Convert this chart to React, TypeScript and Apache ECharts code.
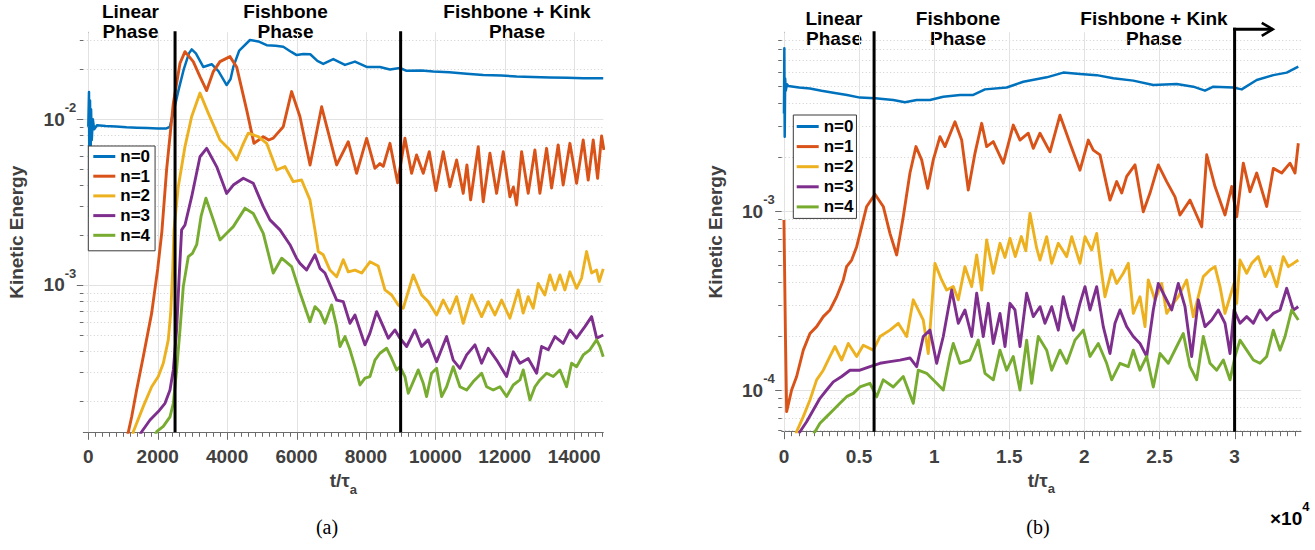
import React, { useEffect, useRef } from "react";
import * as echarts from "echarts";

// ---------- DATA ----------
const seriesNames = ["n=0", "n=1", "n=2", "n=3", "n=4"];
const seriesColors = ["#0072BD", "#D95319", "#EDB120", "#7E2F8E", "#77AC30"];

// (a) left panel: [t/tau_a, kinetic energy]
const leftN0 = [
  [0, 9.0e-3], [20, 1.46e-2], [35, 2.6e-3], [50, 1.3e-2], [65, 5.0e-3], [80, 1.15e-2], [100, 7.5e-3],
  [130, 1.0e-2], [170, 8.7e-3], [250, 9.2e-3], [500, 9.1e-3], [800, 9.05e-3], [1100, 8.95e-3],
  [1400, 8.9e-3], [1700, 8.85e-3], [2000, 8.8e-3], [2250, 8.8e-3], [2350, 9.0e-3], [2470, 1.14e-2],
  [2600, 1.5e-2], [2750, 2.0e-2], [2900, 2.5e-2], [2980, 2.64e-2], [3100, 2.5e-2], [3313, 2.07e-2],
  [3555, 2.15e-2], [3750, 1.95e-2], [3987, 1.61e-2], [4100, 1.75e-2], [4178, 2.07e-2], [4350, 2.6e-2],
  [4658, 3.01e-2], [4900, 2.95e-2], [5140, 2.8e-2], [5400, 2.78e-2], [5618, 2.74e-2], [5850, 2.55e-2],
  [6004, 2.44e-2], [6200, 2.48e-2], [6396, 2.47e-2], [6600, 2.25e-2], [6770, 2.16e-2], [7059, 2.31e-2],
  [7396, 2.13e-2], [7684, 2.23e-2], [8021, 2.07e-2], [8404, 2.07e-2], [8692, 2.0e-2], [8980, 2.04e-2],
  [9173, 1.96e-2], [9600, 1.97e-2], [9940, 1.94e-2], [10400, 1.92e-2], [10902, 1.88e-2], [11380, 1.85e-2],
  [11900, 1.84e-2], [12341, 1.81e-2], [12800, 1.8e-2], [13302, 1.79e-2], [13800, 1.78e-2], [14262, 1.77e-2],
  [14838, 1.77e-2],
];
const leftN1 = [
  [1100, 1.15e-4], [1250, 1.6e-4], [1394, 2.33e-4], [1585, 3.7e-4], [1826, 6.76e-4], [2000, 1.25e-3],
  [2120, 2.1e-3], [2258, 5.0e-3], [2450, 1.25e-2], [2642, 2.18e-2], [2786, 2.56e-2], [3025, 2.23e-2],
  [3218, 1.81e-2], [3410, 1.49e-2], [3602, 1.94e-2], [3794, 2.23e-2], [4082, 2.39e-2], [4275, 2.07e-2],
  [4563, 1.14e-2], [4774, 7.16e-3], [5042, 7.85e-3], [5200, 7.5e-3], [5330, 7.7e-3], [5618, 9.02e-3],
  [5858, 1.47e-2], [6098, 1.04e-2], [6390, 5.3e-3], [6724, 1.19e-2], [7157, 5.3e-3], [7491, 7.32e-3],
  [7732, 4.72e-3], [8021, 7.68e-3], [8260, 5.06e-3], [8404, 5.4e-3], [8500, 5.2e-3], [8692, 7.16e-3],
  [8913, 4.14e-3], [9124, 7.68e-3], [9316, 4.72e-3], [9460, 6.09e-3], [9652, 4.72e-3], [9825, 6.37e-3],
  [10017, 3.71e-3], [10228, 6.37e-3], [10420, 3.92e-3], [10613, 5.68e-3], [10804, 3.57e-3], [10910, 5.3e-3],
  [11017, 3.26e-3], [11236, 6.84e-3], [11380, 3.18e-3], [11573, 6.24e-3], [11766, 3.57e-3], [11957, 6.37e-3],
  [12149, 3.41e-3], [12250, 3.9e-3], [12342, 3.04e-3], [12486, 6.37e-3], [12676, 3.57e-3], [12869, 6.53e-3],
  [13013, 3.57e-3], [13206, 6.68e-3], [13350, 3.84e-3], [13540, 7.0e-3], [13684, 4.01e-3], [13878, 7.16e-3],
  [14071, 4.11e-3], [14261, 7.5e-3], [14405, 4.3e-3], [14550, 7.5e-3], [14676, 4.4e-3], [14791, 7.93e-3],
  [14857, 6.53e-3],
];
const leftN2 = [
  [1250, 1.15e-4], [1297, 1.3e-4], [1585, 1.85e-4], [1826, 2.43e-4], [2017, 2.8e-4], [2161, 3.37e-4],
  [2305, 4.66e-4], [2374, 6.75e-4], [2432, 1.23e-3], [2470, 2.15e-3], [2593, 3.92e-3], [2786, 6.84e-3],
  [2979, 1.04e-2], [3218, 1.44e-2], [3457, 1.09e-2], [3794, 7.5e-3], [4082, 6.53e-3], [4275, 5.68e-3],
  [4450, 7.0e-3], [4610, 8.24e-3], [4898, 7.85e-3], [5140, 7.16e-3], [5428, 4.94e-3], [5667, 5.19e-3],
  [5906, 4.2e-3], [6146, 4.3e-3], [6387, 3.26e-3], [6531, 2.15e-3], [6627, 1.59e-3], [6771, 1.52e-3],
  [6963, 1.23e-3], [7157, 1.12e-3], [7347, 1.42e-3], [7491, 1.2e-3], [7684, 1.23e-3], [7877, 1.18e-3],
  [8116, 1.38e-3], [8355, 1.3e-3], [8548, 9.33e-4], [8741, 8.7e-4], [8931, 7.57e-4], [9075, 7.23e-4],
  [9364, 1.15e-3], [9605, 8.7e-4], [9796, 7.93e-4], [10037, 6.59e-4], [10228, 8.1e-4], [10420, 6.76e-4],
  [10613, 8.5e-4], [10804, 5.87e-4], [11046, 8.7e-4], [11334, 6.44e-4], [11524, 7.93e-4], [11717, 6.59e-4],
  [11910, 8.1e-4], [12149, 6.3e-4], [12388, 9.33e-4], [12532, 6.76e-4], [12676, 8.5e-4], [12820, 7.23e-4],
  [12964, 1.02e-3], [13156, 8.7e-4], [13302, 1.15e-3], [13446, 9.33e-4], [13590, 1.15e-3], [13734, 9.33e-4],
  [13878, 1.2e-3], [14070, 9.55e-4], [14214, 1.1e-3], [14358, 1.59e-3], [14503, 1.18e-3], [14647, 1.23e-3],
  [14722, 1.05e-3], [14838, 1.25e-3],
];
const leftN3 = [
  [1450, 1.2e-4], [1538, 1.3e-4], [1778, 1.53e-4], [2017, 1.72e-4], [2210, 1.93e-4], [2354, 2.32e-4],
  [2450, 3.07e-4], [2545, 5.35e-4], [2613, 1.07e-3], [2689, 2.15e-3], [2786, 2.3e-3], [2979, 3.41e-3],
  [3218, 5.94e-3], [3410, 6.68e-3], [3698, 5.18e-3], [3987, 3.57e-3], [4178, 4.01e-3], [4467, 4.41e-3],
  [4754, 4.11e-3], [5042, 2.97e-3], [5235, 2.47e-3], [5523, 2.15e-3], [5811, 1.75e-3], [6000, 1.45e-3],
  [6098, 1.35e-3], [6290, 1.23e-3], [6531, 1.52e-3], [6675, 1.26e-3], [6819, 1.18e-3], [7157, 8.1e-4],
  [7347, 7.93e-4], [7540, 5.87e-4], [7684, 6.59e-4], [7828, 5.35e-4], [7972, 4.35e-4], [8116, 5.12e-4],
  [8308, 6.9e-4], [8500, 5.6e-4], [8644, 4.77e-4], [8837, 5.35e-4], [8980, 4.77e-4], [9173, 4.25e-4],
  [9412, 5.35e-4], [9605, 4.25e-4], [9796, 4.66e-4], [10037, 3.44e-4], [10325, 4.88e-4], [10516, 3.52e-4],
  [10709, 3.14e-4], [10902, 3.78e-4], [11141, 4.35e-4], [11334, 3.37e-4], [11524, 4.15e-4], [11766, 3.52e-4],
  [12053, 2.8e-4], [12245, 3.95e-4], [12437, 3.37e-4], [12676, 3.6e-4], [12918, 2.93e-4], [13062, 4.25e-4],
  [13253, 4.06e-4], [13446, 4.88e-4], [13685, 4.44e-4], [13878, 5.35e-4], [14070, 4.77e-4], [14310, 5.6e-4],
  [14503, 6.44e-4], [14650, 4.77e-4], [14838, 4.99e-4],
];
const leftN4 = [
  [1900, 1.2e-4], [1970, 1.3e-4], [2161, 1.4e-4], [2354, 1.6e-4], [2450, 1.93e-4], [2545, 3.07e-4],
  [2642, 5.35e-4], [2737, 9.77e-4], [2881, 1.48e-3], [3000, 1.55e-3], [3123, 1.75e-3], [3250, 2.6e-3],
  [3390, 3.34e-3], [3602, 2.47e-3], [3794, 1.87e-3], [3987, 2.05e-3], [4178, 2.25e-3], [4514, 2.9e-3],
  [4754, 2.7e-3], [5042, 2.05e-3], [5330, 1.18e-3], [5572, 1.45e-3], [5860, 1.29e-3], [6098, 9.0e-4],
  [6387, 6.0e-4], [6531, 7.4e-4], [6675, 6.9e-4], [6819, 5.87e-4], [7011, 7.57e-4], [7157, 5.6e-4],
  [7252, 4.25e-4], [7396, 4.88e-4], [7540, 4.06e-4], [7684, 3.21e-4], [7828, 2.49e-4], [7972, 2.74e-4],
  [8116, 2.8e-4], [8260, 3.52e-4], [8404, 3.87e-4], [8596, 4.15e-4], [8741, 3.6e-4], [8884, 3.07e-4],
  [8980, 3.21e-4], [9124, 2.8e-4], [9220, 2.22e-4], [9364, 2.61e-4], [9508, 3.07e-4], [9652, 2.55e-4],
  [9748, 2.12e-4], [9893, 2.93e-4], [10037, 3.14e-4], [10181, 2.12e-4], [10325, 2.43e-4], [10517, 3.21e-4],
  [10709, 2.43e-4], [10902, 2.32e-4], [11093, 2.61e-4], [11334, 2.93e-4], [11478, 2.43e-4], [11668, 2.32e-4],
  [11861, 2.43e-4], [12054, 2.12e-4], [12245, 2.49e-4], [12437, 2.67e-4], [12533, 3.07e-4], [12726, 2.02e-4],
  [12870, 2.43e-4], [13013, 2.67e-4], [13206, 2.93e-4], [13398, 2.8e-4], [13590, 3.07e-4], [13782, 2.43e-4],
  [13926, 3.37e-4], [14070, 3.21e-4], [14262, 3.78e-4], [14454, 4.06e-4], [14647, 4.66e-4], [14742, 4.25e-4],
  [14838, 3.69e-4],
];

// (b) right panel
const rightN0 = [
  [0, 3.5e-3], [25, 8.1e-3], [50, 2.6e-3], [80, 5.5e-3], [120, 4.7e-3], [200, 5.1e-3], [290, 4.99e-3],
  [1000, 4.9e-3], [1731, 4.84e-3], [2500, 4.7e-3], [3284, 4.58e-3], [4200, 4.45e-3], [5060, 4.3e-3],
  [6059, 4.27e-3], [7280, 4.17e-3], [8056, 4.05e-3], [8835, 4.17e-3], [9720, 4.17e-3], [10606, 4.35e-3],
  [11718, 4.45e-3], [12603, 4.45e-3], [13382, 4.78e-3], [14827, 4.9e-3], [15932, 5.27e-3], [17490, 5.58e-3],
  [18595, 5.93e-3], [19707, 5.83e-3], [20819, 5.74e-3], [21924, 5.51e-3], [23256, 5.35e-3], [24587, 5.06e-3],
  [26145, 5.12e-3], [27250, 4.95e-3], [28029, 4.7e-3], [28582, 4.95e-3], [29913, 4.9e-3], [30472, 4.78e-3],
  [31471, 5.39e-3], [32577, 5.74e-3], [33468, 5.93e-3], [34241, 6.4e-3],
];
const rightN1 = [
  [0, 8.9e-4], [100, 2.0e-4], [178, 7.57e-5], [511, 1.0e-4], [844, 1.19e-4], [1287, 1.67e-4], [1731, 2.07e-4],
  [2175, 2.26e-4], [2619, 2.57e-4], [3063, 2.8e-4], [3507, 3.32e-4], [3951, 4.12e-4], [4172, 4.89e-4],
  [4507, 5.32e-4], [4840, 6.32e-4], [5060, 7.5e-4], [5507, 1.06e-3], [6059, 1.24e-3], [6611, 1.06e-3],
  [7057, 7.5e-4], [7503, 5.68e-4], [7943, 9.29e-4], [8388, 1.63e-3], [8788, 2.29e-3], [9168, 1.93e-3],
  [9568, 1.34e-3], [9940, 1.93e-3], [10386, 2.6e-3], [10719, 2.29e-3], [11385, 3.15e-3], [11831, 2.49e-3],
  [12271, 1.31e-3], [12716, 2.1e-3], [13163, 3.09e-3], [13495, 2.29e-3], [13935, 2.44e-3], [14601, 1.85e-3],
  [15266, 3.02e-3], [15712, 2.49e-3], [16265, 2.72e-3], [16598, 2.24e-3], [17044, 2.72e-3], [17710, 2.14e-3],
  [18375, 3.43e-3], [19041, 2.39e-3], [19707, 1.69e-3], [20260, 2.49e-3], [20593, 2.19e-3], [21039, 2.06e-3],
  [21704, 1.15e-3], [22151, 1.46e-3], [22483, 1.26e-3], [22816, 1.56e-3], [23369, 1.81e-3], [23921, 9.91e-4],
  [24368, 1.26e-3], [24920, 1.81e-3], [25479, 1.46e-3], [26032, 1.2e-3], [26365, 9.5e-4], [27031, 1.15e-3],
  [27809, 8.17e-4], [28143, 2.06e-3], [28695, 1.37e-3], [29361, 9.5e-4], [29807, 1.37e-3], [30140, 9.29e-4],
  [30579, 1.85e-3], [31025, 1.28e-3], [31471, 1.63e-3], [32137, 1.06e-3], [32577, 1.73e-3], [33136, 1.63e-3],
  [33688, 1.85e-3], [34021, 1.63e-3], [34241, 2.39e-3],
];
const rightN2 = [
  [700, 5.2e-5], [844, 5.85e-5], [1287, 7.1e-5], [1731, 8.79e-5], [2175, 1.14e-4], [2619, 1.29e-4],
  [3063, 1.54e-4], [3395, 1.75e-4], [3842, 1.47e-4], [4281, 1.82e-4], [4840, 1.54e-4], [5280, 1.78e-4],
  [5946, 1.67e-4], [6391, 1.99e-4], [7057, 2.16e-4], [7610, 2.36e-4], [8169, 1.99e-4], [8609, 3.19e-4],
  [8941, 2.8e-4], [9274, 2.46e-4], [9607, 1.6e-4], [10053, 5.1e-4], [10499, 4.12e-4], [10832, 3.62e-4],
  [11272, 3.78e-4], [11605, 3.19e-4], [12050, 4.89e-4], [12497, 3.78e-4], [12830, 5.68e-4], [13163, 3.62e-4],
  [13495, 6.89e-4], [13935, 4.49e-4], [14381, 6.6e-4], [14714, 5.5e-4], [15047, 7.04e-4], [15400, 5.56e-4],
  [15800, 7.2e-4], [16100, 6.0e-4], [16378, 9.7e-4], [16824, 6.2e-4], [17044, 5.32e-4], [17490, 7.18e-4],
  [17823, 5.1e-4], [18263, 6.6e-4], [18822, 5.56e-4], [19155, 7.18e-4], [19707, 5.1e-4], [20040, 7.18e-4],
  [20486, 6.05e-4], [20819, 7.5e-4], [21152, 4.49e-4], [21371, 3.32e-4], [21818, 4.68e-4], [22151, 3.94e-4],
  [22590, 4.49e-4], [22923, 5.1e-4], [23256, 2.68e-4], [23702, 3.32e-4], [24035, 2.26e-4], [24254, 4.12e-4],
  [24700, 3.19e-4], [25146, 3.94e-4], [25479, 2.68e-4], [25919, 3.05e-4], [26252, 3.32e-4], [26811, 4.12e-4],
  [27250, 2.57e-4], [27583, 3.32e-4], [27916, 4.3e-4], [28362, 4.68e-4], [28695, 4.89e-4], [29028, 3.78e-4],
  [29361, 2.68e-4], [29694, 3.32e-4], [29960, 3.94e-4], [30140, 3.05e-4], [30360, 5.32e-4], [30806, 4.49e-4],
  [31139, 5.1e-4], [31578, 5.56e-4], [32024, 4.3e-4], [32357, 4.89e-4], [32803, 3.78e-4], [33242, 5.56e-4],
  [33575, 4.89e-4], [33908, 5.1e-4], [34241, 5.32e-4],
];
const rightN3 = [
  [1000, 5.6e-5], [1065, 5.85e-5], [1509, 6.65e-5], [1953, 7.73e-5], [2397, 8.99e-5], [2841, 1.0e-4],
  [3284, 1.11e-4], [3842, 1.19e-4], [4394, 1.29e-4], [5060, 1.29e-4], [5726, 1.35e-4], [6391, 1.41e-4],
  [7057, 1.44e-4], [7723, 1.47e-4], [8389, 1.51e-4], [8835, 1.35e-4], [9274, 1.99e-4], [9720, 2.16e-4],
  [10166, 1.41e-4], [10606, 1.99e-4], [11165, 3.62e-4], [11605, 2.36e-4], [12050, 2.8e-4], [12497, 1.99e-4],
  [12830, 3.47e-4], [13269, 1.99e-4], [13602, 3.05e-4], [13935, 1.82e-4], [14381, 2.68e-4], [14714, 1.75e-4],
  [15047, 3.05e-4], [15379, 2.8e-4], [15712, 1.75e-4], [16158, 3.47e-4], [16598, 2.57e-4], [17044, 2.92e-4],
  [17377, 2.36e-4], [17823, 2.92e-4], [18263, 2.16e-4], [18595, 3.32e-4], [18928, 2.57e-4], [19261, 2.16e-4],
  [19707, 3.05e-4], [20040, 3.78e-4], [20373, 2.8e-4], [20819, 3.78e-4], [21258, 2.26e-4], [21704, 1.6e-4],
  [22037, 2.36e-4], [22370, 2.8e-4], [22816, 2.26e-4], [23256, 1.99e-4], [23702, 1.82e-4], [24148, 1.54e-4],
  [24587, 2.8e-4], [24920, 3.94e-4], [25366, 3.32e-4], [25812, 2.8e-4], [26252, 3.94e-4], [26698, 2.92e-4],
  [27144, 1.54e-4], [27583, 3.19e-4], [28029, 2.26e-4], [28475, 2.46e-4], [28915, 2.8e-4], [29361, 2.36e-4],
  [29694, 1.6e-4], [29960, 2.8e-4], [30360, 2.36e-4], [30806, 2.57e-4], [31246, 2.36e-4], [31691, 2.8e-4],
  [32137, 2.46e-4], [32577, 2.68e-4], [33023, 2.8e-4], [33468, 3.7e-4], [33908, 2.8e-4], [34241, 2.92e-4],
];
const rightN4 = [
  [1900, 5.5e-5], [2064, 5.85e-5], [2397, 6.52e-5], [2841, 7.1e-5], [3284, 7.73e-5], [3728, 8.43e-5],
  [4172, 9.18e-5], [4614, 9.58e-5], [5060, 1.04e-4], [5726, 1.09e-4], [6172, 9.18e-5], [6611, 1.14e-4],
  [7277, 1.04e-4], [7943, 1.19e-4], [8609, 8.43e-5], [8941, 1.29e-4], [9501, 1.24e-4], [10166, 1.09e-4],
  [10606, 1.0e-4], [11052, 1.54e-4], [11272, 1.82e-4], [11718, 1.41e-4], [12383, 1.47e-4], [12936, 1.9e-4],
  [13382, 1.24e-4], [13935, 1.14e-4], [14381, 1.67e-4], [14827, 1.29e-4], [15266, 1.54e-4], [15712, 1.0e-4],
  [16158, 1.9e-4], [16491, 1.09e-4], [16931, 1.99e-4], [17490, 1.67e-4], [17823, 1.29e-4], [18375, 1.67e-4],
  [18822, 1.41e-4], [19374, 1.9e-4], [19928, 2.16e-4], [20373, 1.54e-4], [20925, 1.82e-4], [21484, 1.41e-4],
  [21818, 1.14e-4], [22370, 1.41e-4], [22923, 1.35e-4], [23256, 1.67e-4], [23702, 1.29e-4], [24148, 1.54e-4],
  [24587, 1.04e-4], [25033, 1.6e-4], [25586, 1.41e-4], [26145, 1.75e-4], [26585, 2.07e-4], [27031, 1.35e-4],
  [27476, 1.14e-4], [27916, 1.99e-4], [28362, 1.41e-4], [28807, 1.29e-4], [29248, 1.47e-4], [29694, 1.14e-4],
  [30027, 1.54e-4], [30360, 1.9e-4], [30806, 1.67e-4], [31246, 1.47e-4], [31691, 1.41e-4], [32137, 1.54e-4],
  [32577, 2.16e-4], [33023, 1.67e-4], [33356, 1.99e-4], [33801, 2.8e-4], [34241, 2.46e-4],
];

const leftSeriesData = [leftN0, leftN1, leftN2, leftN3, leftN4];
const rightSeriesData = [rightN0, rightN1, rightN2, rightN3, rightN4];

// axes
const leftXRange = [-144, 14840];
const rightXRange = [-150, 34420];
const leftYRange = [1.29e-4, 3.35e-2];
const rightYRange = [5.85e-5, 9.96e-3];
const leftXTicks = [0, 2000, 4000, 6000, 8000, 10000, 12000, 14000];
const rightXTicks = [0, 5000, 10000, 15000, 20000, 25000, 30000];
const leftXMinorStep = 200;
const rightXMinorStep = 500;

// phase boundaries and labels
const leftPhaseLines = [2500, 9000];
const rightPhaseLines = [6000, 30000];
const rightArrowEnd = 32540;
const phaseLabels = ["Linear\nPhase", "Fishbone\nPhase", "Fishbone + Kink\nPhase"];
const captions = ["(a)", "(b)"];

// ---------- STYLE ----------
const FONT = "'Liberation Sans', Arial, Helvetica, sans-serif";
const TICK_GRAY = "#404040";
const AXIS_GRAY = "#6b6b6b";
const GRID_MAJOR = "#e2e2e2";
const GRID_MINOR = "#cfcfcf";

function minorLinear(range: number[], step: number, majors: number[]) {
  const out: number[] = [];
  const start = Math.ceil(range[0] / step) * step;
  for (let v = start; v <= range[1]; v += step) {
    if (!majors.includes(v)) out.push(v);
  }
  return out;
}
function logMajors(range: number[]) {
  const out: number[] = [];
  for (let e = -8; e <= 2; e++) {
    const v = Math.pow(10, e);
    if (v >= range[0] && v <= range[1]) out.push(v);
  }
  return out;
}
function logMinors(range: number[]) {
  const out: number[] = [];
  for (let e = -8; e <= 2; e++) {
    for (let k = 2; k <= 9; k++) {
      const v = k * Math.pow(10, e);
      if (v >= range[0] && v <= range[1]) out.push(v);
    }
  }
  return out;
}

function ln(x1: number, y1: number, x2: number, y2: number, stroke: string, lineWidth: number, dash?: number[]) {
  return {
    type: "line",
    shape: { x1, y1, x2, y2 },
    style: { stroke, lineWidth, lineDash: dash || null },
    silent: true,
  };
}
const crisp = (v: number) => Math.round(v) + 0.5;

function decorRenderer(xRange: number[], yRange: number[], xMajor: number[], xStep: number) {
  const xMinor = minorLinear(xRange, xStep, xMajor);
  const yMajor = logMajors(yRange);
  const yMinor = logMinors(yRange);
  return (params: any, api: any) => {
    const cs = params.coordSys;
    const L = cs.x, T = cs.y, R = cs.x + cs.width, B = cs.y + cs.height;
    const ch: any[] = [];
    for (const v of yMinor) {
      const y = crisp(api.coord([xRange[0], v])[1]);
      ch.push(ln(L, y, R, y, GRID_MINOR, 1, [1, 2.5]));
      ch.push(ln(L - 3.5, y, L, y, AXIS_GRAY, 1));
    }
    for (const v of yMajor) {
      const y = crisp(api.coord([xRange[0], v])[1]);
      ch.push(ln(L, y, R, y, GRID_MAJOR, 1));
      ch.push(ln(L - 6.5, y, L, y, AXIS_GRAY, 1));
    }
    for (const v of xMajor) {
      const x = crisp(api.coord([v, yRange[0]])[0]);
      ch.push(ln(x, T, x, B, GRID_MAJOR, 1));
      ch.push(ln(x, B, x, B + 7.5, AXIS_GRAY, 1));
    }
    for (const v of xMinor) {
      const x = crisp(api.coord([v, yRange[0]])[0]);
      ch.push(ln(x, B, x, B + 4.5, AXIS_GRAY, 1));
    }
    return { type: "group", children: ch };
  };
}

function phaseRenderer(yRange: number[], lines: number[], arrowFrom?: number, arrowTo?: number) {
  return (params: any, api: any) => {
    const cs = params.coordSys;
    const T = cs.y, B = cs.y + cs.height;
    const ch: any[] = [];
    for (const v of lines) {
      const x = api.coord([v, yRange[0]])[0];
      const top = v === arrowFrom ? T - 4.5 : T - 1;
      ch.push(ln(x, top, x, B, "#000", 3));
    }
    if (arrowFrom !== undefined && arrowTo !== undefined) {
      const x1 = api.coord([arrowFrom, yRange[0]])[0];
      const x2 = api.coord([arrowTo, yRange[0]])[0];
      const y = T - 3;
      ch.push(ln(x1 - 1.5, y, x2, y, "#000", 3));
      ch.push({
        type: "polyline",
        shape: { points: [[x2 - 11, y - 6.5], [x2, y], [x2 - 11, y + 6.5]] },
        style: { stroke: "#000", lineWidth: 2.6, fill: null },
        silent: true,
      });
    }
    return { type: "group", children: ch };
  };
}

function supLabel(v: number) {
  const l = Math.log10(v);
  const e = Math.round(l);
  if (Math.abs(l - e) > 1e-6) return "";
  return `{b|10}{s|${e}}`;
}

const richPow = {
  b: { fontSize: 19, fontWeight: "bold", color: TICK_GRAY, fontFamily: FONT, lineHeight: 36 },
  s: { fontSize: 13, fontWeight: "bold", color: TICK_GRAY, fontFamily: FONT, lineHeight: 13, verticalAlign: "top" },
};

function makeX(gridIndex: number, range: number[], ticks: number[], fmt: (v: number) => string) {
  return {
    type: "value",
    gridIndex,
    min: range[0],
    max: range[1],
    name: "{t|t/τ}{s|a}",
    nameLocation: "middle",
    nameGap: 31,
    nameTextStyle: {
      rich: {
        t: { fontSize: 19, fontWeight: "bold", color: TICK_GRAY, fontFamily: FONT, lineHeight: 30 },
        s: { fontSize: 13, fontWeight: "bold", color: TICK_GRAY, fontFamily: FONT, lineHeight: 13, verticalAlign: "bottom" },
      },
    },
    axisLine: { show: true, onZero: false, lineStyle: { color: AXIS_GRAY, width: 1 } },
    axisTick: { show: false },
    splitLine: { show: false },
    minorTick: { show: false },
    axisLabel: {
      customValues: ticks,
      formatter: fmt,
      margin: 15,
      color: TICK_GRAY,
      fontSize: 19,
      fontWeight: "bold",
      fontFamily: FONT,
      hideOverlap: false,
    },
  };
}

function makeY(gridIndex: number, range: number[]) {
  return {
    type: "log",
    logBase: 10,
    gridIndex,
    min: range[0],
    max: range[1],
    name: "Kinetic Energy",
    nameLocation: "middle",
    nameGap: 57,
    nameRotate: 90,
    nameTextStyle: { fontSize: 19, fontWeight: "bold", color: TICK_GRAY, fontFamily: FONT },
    axisLine: { show: true, lineStyle: { color: AXIS_GRAY, width: 1 } },
    axisTick: { show: false },
    splitLine: { show: false },
    minorTick: { show: false },
    minorSplitLine: { show: false },
    axisLabel: {
      formatter: (v: number) => supLabel(v),
      margin: 7,
      rich: richPow,
      showMinLabel: true,
      showMaxLabel: true,
    },
  };
}

function makeLegend(left: number, top: number, gap: number, padding: number[]) {
  return {
    data: seriesNames,
    orient: "vertical",
    left,
    top,
    icon: "rect",
    itemWidth: 22,
    itemHeight: 3,
    itemGap: gap,
    padding,
    borderColor: "#3a3a3a",
    borderWidth: 1,
    borderRadius: 0,
    backgroundColor: "#ffffff",
    selectedMode: false,
    textStyle: { fontSize: 17, fontWeight: "bold", color: "#000", fontFamily: FONT, lineHeight: 16 },
  };
}

function lineSeries(i: number, data: number[][], axisIndex: number) {
  return {
    type: "line",
    name: seriesNames[i],
    xAxisIndex: axisIndex,
    yAxisIndex: axisIndex,
    data,
    showSymbol: false,
    symbol: "none",
    clip: true,
    silent: true,
    z: 3,
    lineStyle: { color: seriesColors[i], width: i === 0 ? 2.5 : 2.9, join: "round" },
    itemStyle: { color: seriesColors[i] },
  };
}

function phaseText(text: string, x: number, y: number) {
  return {
    type: "text",
    x,
    y,
    silent: true,
    style: {
      text,
      fill: "#000",
      fontSize: 19,
      fontWeight: "bold",
      fontFamily: FONT,
      align: "center",
      verticalAlign: "top",
      lineHeight: 20.5,
    },
  };
}

export default function App() {
  const ref = useRef<HTMLDivElement>(null);
  useEffect(() => {
    document.body.style.margin = "0";
    if (!ref.current) return;
    const chart = echarts.init(ref.current, null, { renderer: "svg" });
    const option: any = {
      animation: false,
      backgroundColor: "#ffffff",
      grid: [
        { left: 83.3, top: 32.3, width: 520, height: 400 },
        { left: 781.7, top: 32.3, width: 519.3, height: 399.4 },
      ],
      xAxis: [
        makeX(0, leftXRange, leftXTicks, (v: number) => String(v)),
        makeX(1, rightXRange, rightXTicks, (v: number) => String(v / 1e4)),
      ],
      yAxis: [makeY(0, leftYRange), makeY(1, rightYRange)],
      legend: [
        makeLegend(88.3, 146, 2.7, [2, 5, 7, 5]),
        makeLegend(793.3, 115, 3.1, [3, 3, 3, 3.4]),
      ],
      graphic: [
        phaseText(phaseLabels[0], 130.5, 1),
        phaseText(phaseLabels[1], 285.5, 1),
        phaseText(phaseLabels[2], 517, 1),
        phaseText(phaseLabels[0], 834, 8),
        phaseText(phaseLabels[1], 958, 8),
        phaseText(phaseLabels[2], 1154, 8),
        {
          type: "text",
          x: 1270,
          y: 500,
          silent: true,
          style: {
            text: "{b|×10}{s|4}",
            rich: richPow,
          },
        },
        {
          type: "text", x: 327, y: 527, silent: true,
          style: { text: captions[0], fill: "#000", fontSize: 20, fontFamily: "'Liberation Serif', 'DejaVu Serif', serif", align: "center", verticalAlign: "middle" },
        },
        {
          type: "text", x: 1038, y: 527, silent: true,
          style: { text: captions[1], fill: "#000", fontSize: 20, fontFamily: "'Liberation Serif', 'DejaVu Serif', serif", align: "center", verticalAlign: "middle" },
        },
      ],
      series: [
        {
          type: "custom", xAxisIndex: 0, yAxisIndex: 0, z: 1, silent: true, clip: false,
          data: [[0, 1e-3]],
          renderItem: decorRenderer(leftXRange, leftYRange, leftXTicks, leftXMinorStep),
        },
        {
          type: "custom", xAxisIndex: 1, yAxisIndex: 1, z: 1, silent: true, clip: false,
          data: [[0, 1e-3]],
          renderItem: decorRenderer(rightXRange, rightYRange, rightXTicks, rightXMinorStep),
        },
        ...leftSeriesData.map((d, i) => lineSeries(i, d, 0)),
        ...rightSeriesData.map((d, i) => lineSeries(i, d, 1)),
        {
          type: "custom", xAxisIndex: 0, yAxisIndex: 0, z: 6, silent: true, clip: false,
          data: [[0, 1e-3]],
          renderItem: phaseRenderer(leftYRange, leftPhaseLines),
        },
        {
          type: "custom", xAxisIndex: 1, yAxisIndex: 1, z: 6, silent: true, clip: false,
          data: [[0, 1e-3]],
          renderItem: phaseRenderer(rightYRange, rightPhaseLines, rightPhaseLines[1], rightArrowEnd),
        },
      ],
    };
    chart.setOption(option);
    return () => chart.dispose();
  }, []);
  return <div ref={ref} style={{ width: 1315, height: 550 }} />;
}
